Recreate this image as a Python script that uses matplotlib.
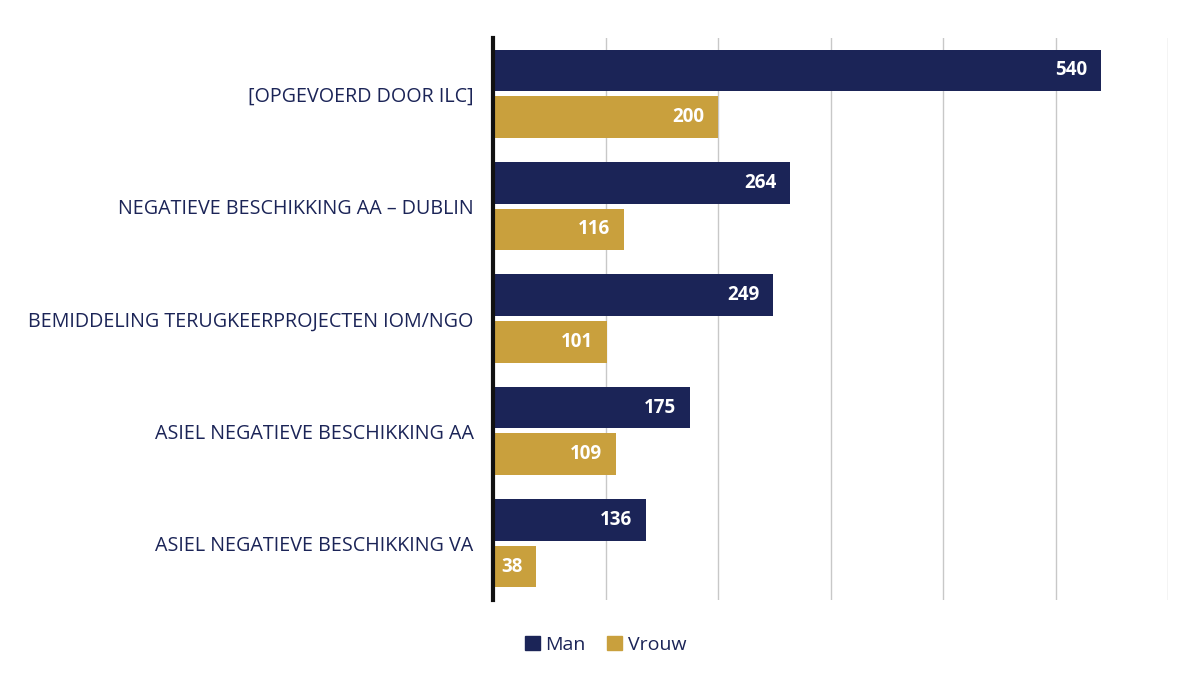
import numpy as np
import matplotlib.pyplot as plt
from matplotlib.patches import Patch

categories = ["[OPGEVOERD DOOR ILC]", "NEGATIEVE BESCHIKKING AA \u2013 DUBLIN",
              "BEMIDDELING TERUGKEERPROJECTEN IOM/NGO", "ASIEL NEGATIEVE BESCHIKKING AA",
              "ASIEL NEGATIEVE BESCHIKKING VA"]
man = [540, 264, 249, 175, 136]
vrouw = [200, 116, 101, 109, 38]

navy = "#1b2457"
gold = "#c9a03d"

plt.rcParams['font.family'] = ['Open Sans', 'DejaVu Sans']

fig = plt.figure(figsize=(11.85, 6.74), dpi=100)
ax = fig.add_axes([0.416, 0.11, 0.57, 0.834])

y = np.arange(len(categories))
h = 0.37
bm = ax.barh(y - 0.21, man, height=h, color=navy)
bv = ax.barh(y + 0.205, vrouw, height=h, color=gold)

for bars in (bm, bv):
    for b in bars:
        w = b.get_width()
        ax.text(w - 12, b.get_y() + b.get_height() / 2, f"{int(w)}", ha='right', va='center',
                color='white', fontsize=13.5, fontweight='bold')

ax.set_xlim(0, 600)
ax.set_ylim(len(categories) - 0.5, -0.5)
ax.set_xticks(range(0, 601, 100))
ax.set_xticklabels([])
ax.tick_params(axis='x', length=0)
ax.set_yticks(y)
ax.set_yticklabels(categories, fontsize=14.2, color=navy, fontweight='medium')
ax.tick_params(axis='y', length=0, pad=14)
ax.grid(axis='x', color='#c8c8c8', linewidth=1)
ax.set_axisbelow(True)
for s in ['top', 'right', 'bottom']:
    ax.spines[s].set_visible(False)
ax.spines['left'].set_linewidth(3)
ax.spines['left'].set_color('#111111')

handles = [Patch(color=navy, label='Man'), Patch(color=gold, label='Vrouw')]
fig.legend(handles=handles, loc='center', bbox_to_anchor=(0.511, 0.043), ncol=2, frameon=False,
           fontsize=14, handlelength=0.75, handleheight=0.75, handletextpad=0.3, columnspacing=1.1,
           labelcolor=navy)

fig.savefig("out.png", dpi=100, facecolor='white')
